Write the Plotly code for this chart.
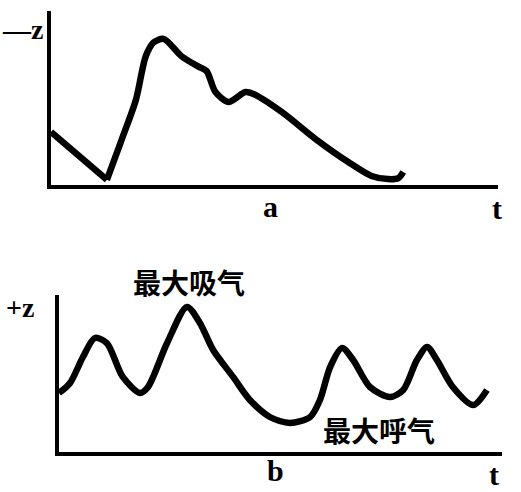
import plotly.graph_objects as go

# Curve a (top): time t (0-100) and -z (0-100)
a_drop_t = [0, 12.5]
a_drop_z = [30.5, 3]
a_t = [12.5, 15.8, 19, 21.2, 23, 25.2, 29.2, 33, 34.8, 36.8, 39.7, 43.5, 45.3, 51.6, 59.2, 66.5, 71.7, 75.4, 77.7, 78.8]
a_z = [3, 26, 49, 74, 82, 84, 74, 68, 65.5, 53.4, 47.7, 53.4, 52.3, 42, 26.4, 13.2, 5.2, 3.4, 4, 7.5]

# Curve b (bottom): time t (0-100) and +z (0-100)
b_t = [0, 2.5, 5.4, 8.1, 10.8, 14.4, 18.3, 20.1, 24.4, 28.9, 31.8, 34.8, 39.3, 43.1, 47.6, 52.1, 56.7, 58.9,
       61.2, 63.9, 66.4, 70.2, 74.7, 77.7, 80.8, 83.1, 85.3, 88.9, 93.5, 96.6]
b_z = [37.6, 44, 60.5, 72.6, 69.4, 47.8, 37.6, 41.4, 69.4, 92.4, 82.2, 65, 47.8, 33.1, 22.3, 18.5, 22.3, 33.1,
       54.1, 66.2, 58.6, 41.4, 35, 39.5, 58.6, 66.9, 58.6, 41.4, 29.9, 39.5]

line = dict(color="black", width=6.5)
fig = go.Figure()
fig.add_trace(go.Scatter(x=a_drop_t, y=a_drop_z, mode="lines", line=line, xaxis="x", yaxis="y"))
fig.add_trace(go.Scatter(x=a_t, y=a_z, mode="lines", line=dict(line, shape="spline", smoothing=0.8),
                         xaxis="x", yaxis="y"))
fig.add_trace(go.Scatter(x=b_t, y=b_z, mode="lines", line=dict(line, shape="spline", smoothing=0.8),
                         xaxis="x2", yaxis="y2"))

W, H = 521, 492
def px(x): return x / W
def py(y): return 1 - y / H

ax = dict(range=[0, 100], showgrid=False, zeroline=False, showticklabels=False, ticks="",
          showline=True, linecolor="black", linewidth=3.5, fixedrange=True)
fig.update_layout(
    width=W, height=H, margin=dict(l=0, r=0, t=0, b=0),
    paper_bgcolor="white", plot_bgcolor="white", showlegend=False,
    xaxis=dict(ax, domain=[px(51), px(498)], anchor="y"),
    yaxis=dict(ax, domain=[py(185), py(11)], anchor="x"),
    xaxis2=dict(ax, domain=[px(59), px(502)], anchor="y2"),
    yaxis2=dict(ax, domain=[py(452), py(295)], anchor="x2"),
)

latin = dict(family="Liberation Serif", size=30, color="black")
sign = dict(family="Liberation Serif", size=28, color="black")
cjk = dict(family="Noto Sans CJK SC", size=28, color="black")
labels = [
    ("<b>—z</b>", 22, 29, sign),
    ("<b>a</b>", 270, 207, latin),
    ("<b>t</b>", 497, 208, latin),
    ("<b>+z</b>", 20, 307, sign),
    ("<b>b</b>", 275, 470, latin),
    ("<b>t</b>", 494, 474, latin),
    ("<b>最大吸气</b>", 189, 282, cjk),
    ("<b>最大呼气</b>", 379, 430, cjk),
]
for text, x, y, font in labels:
    fig.add_annotation(text=text, x=px(x), y=py(y), xref="paper", yref="paper",
                       showarrow=False, font=font, xanchor="center", yanchor="middle")

fig.write_html("out.html", config={"displayModeBar": False},
               post_script="document.body.style.margin='0';document.body.style.overflow='hidden';")
